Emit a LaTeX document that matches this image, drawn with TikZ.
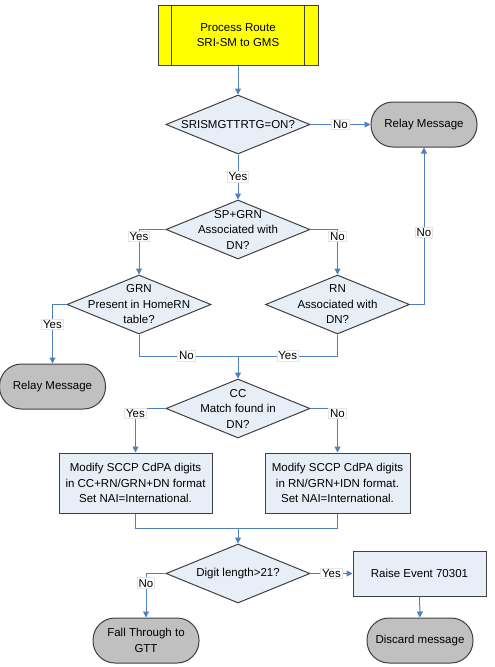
\documentclass[tikz,border=0pt]{standalone}
\usepackage{fontspec}
\setmainfont{Liberation Sans}
\usetikzlibrary{shapes.geometric,arrows.meta}
\definecolor{linkblue}{HTML}{4F81BD}
\definecolor{borderc}{HTML}{404040}
\definecolor{boxfill}{HTML}{E8EEF8}
\definecolor{termfill}{HTML}{C0C0C0}
\definecolor{procyellow}{HTML}{FFFF00}
\tikzset{
  every node/.style={font=\fontsize{11.5}{15.5}\selectfont},
  dia/.style={diamond, draw=borderc, line width=1pt, fill=boxfill, minimum width=144pt, minimum height=59pt, inner sep=0pt},
  dtext/.style={align=center, inner sep=0pt, font=\fontsize{11.5}{15.5}\selectfont},
  term/.style={rectangle, rounded corners=22pt, draw=borderc, line width=1pt, fill=termfill, minimum width=106pt, minimum height=45pt, align=center, inner sep=0pt},
  procbox/.style={rectangle, draw=borderc, line width=1pt, fill=boxfill, align=center, inner sep=0pt},
  conn/.style={draw=linkblue, line width=1pt},
  arr/.style={conn, -{Triangle[width=6pt,length=6pt]}},
  lbl/.style={fill=white, draw=gray!20, inner sep=1.2pt, text=black}
}
\begin{document}
\begin{tikzpicture}[x=1pt,y=-1pt]
\useasboundingbox (0,0) rectangle (495,667);
% start process
\node[procbox, fill=procyellow, minimum width=160pt, minimum height=60pt] (p) at (238,35) {Process Route\\SRI-SM to GMS};
\draw[borderc, line width=1pt] ([xshift=14pt]p.north west) -- ([xshift=14pt]p.south west);
\draw[borderc, line width=1pt] ([xshift=-14pt]p.north east) -- ([xshift=-14pt]p.south east);
% decisions
\node[dia, label={[dtext]center:SRISMGTTRTG=ON?}] (d1) at (238,124.5) {};
\node[dia, label={[dtext]center:SP+GRN\\Associated with\\DN?}] (d2) at (238,229.5) {};
\node[dia, label={[dtext]center:GRN\\Present in HomeRN\\table?}] (d3) at (139,304.5) {};
\node[dia, label={[dtext]center:RN\\Associated with\\DN?}] (d4) at (337.5,304.5) {};
\node[dia, label={[dtext]center:CC\\Match found in\\DN?}] (d5) at (238,408.5) {};
\node[dia, label={[dtext]center:Digit length>21?}] (d6) at (238,573.5) {};
% terminators
\node[term] (r1) at (424,124.5) {Relay Message};
\node[term] (r2) at (52.5,386.5) {Relay Message};
\node[term] (ft) at (146,640.5) {Fall Through to\\GTT};
\node[term] (ds) at (420,640.5) {Discard message};
% process boxes
\node[procbox, minimum width=153pt, minimum height=60pt] (b1) at (135.5,483) {Modify SCCP CdPA digits\\in CC+RN/GRN+DN format\\Set NAI=International.};
\node[procbox, minimum width=145pt, minimum height=60pt] (b2) at (337.5,483) {Modify SCCP CdPA digits\\in RN/GRN+IDN format.\\Set NAI=International.};
\node[procbox, minimum width=133pt, minimum height=45pt] (b3) at (419.5,573.5) {Raise Event 70301};
% merge points
\coordinate (m1) at (238,356);
\coordinate (m2) at (238,528);
% connectors
\draw[arr] (p) -- (d1);
\draw[arr] (d1) -- node[lbl] {No} (r1);
\draw[arr] (d1) -- node[lbl] {Yes} (d2);
\draw[arr] (d2.west) -| node[lbl, pos=0.58] {Yes} (d3.north);
\draw[arr] (d2.east) -| node[lbl, pos=0.58] {No} (d4.north);
\draw[arr] (d4.east) -| node[lbl, pos=0.73] {No} (r1.south);
\draw[arr] (d3.west) -| node[lbl, pos=0.67] {Yes} (r2.north);
\draw[conn] (d3.south) |- node[lbl, pos=0.74] {No} (m1);
\draw[conn] (d4.south) |- node[lbl, pos=0.75] {Yes} (m1);
\draw[arr] (m1) -- (d5.north);
\draw[arr] (d5.west) -| node[lbl, pos=0.56] {Yes} (b1.north);
\draw[arr] (d5.east) -| node[lbl, pos=0.56] {No} (b2.north);
\draw[conn] (b1.south) |- (m2);
\draw[conn] (b2.south) |- (m2);
\draw[arr] (m2) -- (d6.north);
\draw[arr] (d6.east) -- node[lbl] {Yes} (b3.west);
\draw[arr] (d6.west) -| node[lbl, pos=0.61] {No} (ft.north);
\draw[arr] (b3) -- (ds);
\end{tikzpicture}
\end{document}
